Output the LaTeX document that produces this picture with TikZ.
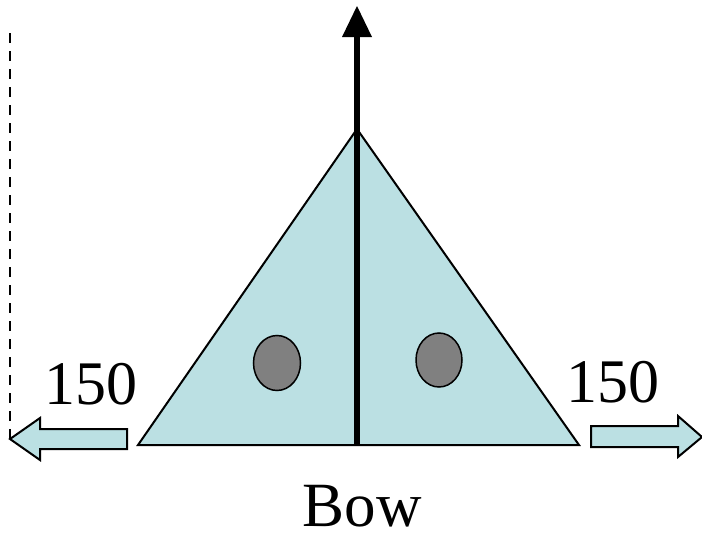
\documentclass[tikz,border=0pt]{standalone}
\usepackage{fontspec}
\usetikzlibrary{shapes.geometric}
\setmainfont{Liberation Serif}
\definecolor{hull}{RGB}{187,224,227}
\definecolor{spot}{RGB}{128,128,128}
\tikzset{
  hullshape/.style={draw=black,fill=hull,line width=2pt,line join=miter},
  spotshape/.style={draw=black,fill=spot,line width=1.5pt},
  label150/.style={inner sep=0pt,anchor=base,font=\fontsize{62}{62}\selectfont},
}
\begin{document}
\begin{tikzpicture}[x=1pt,y=-1pt]
\useasboundingbox (0,0) rectangle (702,533);
% triangle
\coordinate (apex) at (357,129);
\coordinate (bl) at (138,445);
\coordinate (br) at (579,445);
\coordinate (keel) at (357,445);
\coordinate (shaftTop) at (357,34);
\coordinate (tip) at (357,6);
\coordinate (dashTop) at (10,33);
\coordinate (dashBot) at (10,445);
\draw[hullshape] (bl) -- (apex) -- (br) -- cycle;
% spots
\node[spotshape,ellipse,minimum width=47pt,minimum height=55pt,inner sep=0pt] (spotL) at (277,363) {};
\node[spotshape,ellipse,minimum width=46pt,minimum height=54pt,inner sep=0pt] (spotR) at (439,360) {};
% centre arrow
\draw[line width=5.5pt] (keel) -- (shaftTop);
\fill[black] (tip) -- (372,37) -- (342,37) -- cycle;
% dashed line
\draw[line width=2pt,dash pattern=on 10pt off 8pt] (dashTop) -- (dashBot);
% block arrows
\draw[hullshape] (10,439) -- (40,418) -- (40,429) -- (127,429) -- (127,449) -- (40,449) -- (40,460) -- cycle;
\draw[hullshape] (591,426) -- (678,426) -- (678,416) -- (702,437) -- (678,457) -- (678,447) -- (591,447) -- cycle;
% labels
\node[label150] (leftLabel) at (91,404) {150};
\node[label150] (rightLabel) at (613,402) {150};
\node[label150,font=\fontsize{63}{63}\selectfont] (bow) at (362,526) {Bow};
\end{tikzpicture}
\end{document}
